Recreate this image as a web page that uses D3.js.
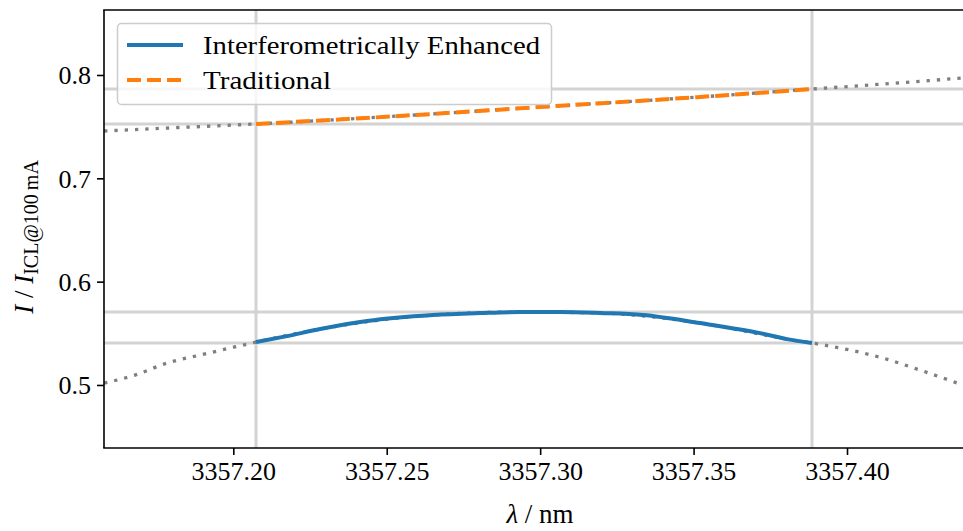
<!DOCTYPE html>
<html>
<head>
<meta charset="utf-8">
<script src="https://cdn.jsdelivr.net/npm/d3@7/dist/d3.min.js"></script>
<style>
  body { margin: 0; background: #fff; }
  svg { display: block; }
  svg text { font-family: "Liberation Serif", "DejaVu Serif", "Noto Serif", serif !important; fill: #000; }
</style>
</head>
<body>
<svg id="chart" width="963" height="531"></svg>
<script>
// ---- Data ----
const xTicks = [3357.20, 3357.25, 3357.30, 3357.35, 3357.40];
const yTicks = [0.5, 0.6, 0.7, 0.8];

// Interferometrically enhanced (measured segment)
const enhancedX = [3357.2074, 3357.2175, 3357.2283, 3357.2436, 3357.2651, 3357.2805, 3357.2934,
                   3357.3065, 3357.3195, 3357.3335, 3357.3521, 3357.3716, 3357.3804, 3357.3886];
const enhancedY = [0.5415, 0.5473, 0.5541, 0.5619, 0.5677, 0.5696, 0.5706,
                   0.5706, 0.5696, 0.5677, 0.5599, 0.5502, 0.5444, 0.5406];

// Dotted extension of the enhanced curve
const enhFitX = [3357.1579, 3357.1680, 3357.1784, 3357.1891, 3357.1989, 3357.2074,
                 3357.2283, 3357.2651, 3357.2934, 3357.3195, 3357.3521, 3357.3804, 3357.3886,
                 3357.4010, 3357.4117, 3357.4238, 3357.4378];
const enhFitY = [0.5018, 0.5096, 0.5212, 0.5289, 0.5357, 0.5415,
                 0.5541, 0.5677, 0.5706, 0.5696, 0.5599, 0.5444, 0.5406,
                 0.5338, 0.5260, 0.5144, 0.4999];

// Traditional (measured segment)
const tradX = [3357.2074, 3357.2540, 3357.3000, 3357.3520, 3357.3886];
const tradY = [0.7526, 0.7603, 0.7690, 0.7787, 0.7864];

// Dotted extension of the traditional curve
const tradFitX = [3357.1579, 3357.1827, 3357.2074, 3357.2540, 3357.3000, 3357.3520, 3357.3886, 3357.4143, 3357.4378];
const tradFitY = [0.7458, 0.7492, 0.7526, 0.7603, 0.7690, 0.7787, 0.7864, 0.7918, 0.7971];

// Reference markers (grid lines at segment ends)
const markerX = [3357.2074, 3357.3886];
const markerY = [0.7864, 0.7526, 0.5706, 0.5406];

const seriesNames = ["Interferometrically Enhanced", "Traditional"];

// ---- Layout ----
const FONT = "'Liberation Serif', 'DejaVu Serif', 'Noto Serif', serif";
const L = 104, R = 963, T = 10, B = 448;
const svg = d3.select("#chart");
const x = d3.scaleLinear().domain([3357.15786, 3357.43780]).range([L, R]);
const y = d3.scaleLinear().domain([0.439, 0.8629]).range([B, T]);

svg.append("defs").append("clipPath").attr("id", "clip")
  .append("rect").attr("x", L).attr("y", T).attr("width", R - L + 5).attr("height", B - T);

const plot = svg.append("g").attr("clip-path", "url(#clip)");

// grid markers
plot.selectAll("line.vx").data(markerX).enter().append("line")
  .attr("x1", d => x(d)).attr("x2", d => x(d)).attr("y1", T).attr("y2", B)
  .attr("stroke", "#d3d3d3").attr("stroke-width", 3);
plot.selectAll("line.hy").data(markerY).enter().append("line")
  .attr("x1", L).attr("x2", R + 5).attr("y1", d => y(d)).attr("y2", d => y(d))
  .attr("stroke", "#d3d3d3").attr("stroke-width", 3);

const line = d3.line().x(d => x(d[0])).y(d => y(d[1])).curve(d3.curveMonotoneX);
const zip = (a, b) => a.map((v, i) => [v, b[i]]);

plot.append("path").attr("d", line(zip(enhFitX, enhFitY)))
  .attr("fill", "none").attr("stroke", "#7f7f7f").attr("stroke-width", 3.3)
  .attr("stroke-dasharray", "3.3,7");
plot.append("path").attr("d", line(zip(tradFitX, tradFitY)))
  .attr("fill", "none").attr("stroke", "#7f7f7f").attr("stroke-width", 3.3)
  .attr("stroke-dasharray", "3.3,7");

plot.append("path").attr("d", line(zip(enhancedX, enhancedY)))
  .attr("fill", "none").attr("stroke", "#1f77b4").attr("stroke-width", 4);
plot.append("path").attr("d", line(zip(tradX, tradY)))
  .attr("fill", "none").attr("stroke", "#ff7f0e").attr("stroke-width", 4)
  .attr("stroke-dasharray", "14,6");

// axes
const xAxis = d3.axisBottom(x).tickValues(xTicks).tickFormat(d3.format(".2f")).tickSize(7).tickPadding(6);
const yAxis = d3.axisLeft(y).tickValues(yTicks).tickFormat(d3.format(".1f")).tickSize(7).tickPadding(6);

const gx = svg.append("g").attr("transform", `translate(0,${B})`).call(xAxis);
const gy = svg.append("g").attr("transform", `translate(${L},0)`).call(yAxis);
[gx, gy].forEach(g => {
  g.attr("font-family", FONT);
  g.select(".domain").remove();
  g.selectAll(".tick line").attr("stroke", "#000").attr("stroke-width", 1.6);
  g.selectAll(".tick text").attr("font-family", FONT).attr("font-size", 26).attr("fill", "#000");
});
gx.selectAll(".tick text").attr("dy", "0.74em");
gy.selectAll(".tick text").attr("dy", "0.34em");

// spines
svg.append("line").attr("x1", L).attr("x2", L).attr("y1", T).attr("y2", B).attr("stroke", "#000").attr("stroke-width", 1.6);
svg.append("line").attr("x1", L - 0.8).attr("x2", R + 5).attr("y1", B).attr("y2", B).attr("stroke", "#000").attr("stroke-width", 1.6);
svg.append("line").attr("x1", L - 0.8).attr("x2", R + 5).attr("y1", T).attr("y2", T).attr("stroke", "#000").attr("stroke-width", 1.6);

// axis labels
const xl = svg.append("text").attr("x", 540).attr("y", 523).attr("text-anchor", "middle")
  .attr("font-family", FONT).attr("font-size", 27);
xl.append("tspan").attr("font-style", "italic").text("λ");
xl.append("tspan").text(" / nm");

const yl = svg.append("text").attr("transform", `translate(33,237) rotate(-90)`)
  .attr("text-anchor", "middle").attr("font-family", FONT).attr("font-size", 27);
yl.append("tspan").attr("font-style", "italic").text("I");
yl.append("tspan").text(" / ");
yl.append("tspan").attr("font-style", "italic").text("I");
yl.append("tspan").attr("font-size", 20).attr("dy", 5).text("ICL@100\u2009mA");

// legend
const lg = svg.append("g");
lg.append("rect").attr("x", 117.5).attr("y", 23.5).attr("width", 434).attr("height", 81).attr("rx", 4)
  .attr("fill", "#fff").attr("fill-opacity", 0.8).attr("stroke", "#cccccc").attr("stroke-width", 1.5);
const legendItems = [
  { name: seriesNames[0], color: "#1f77b4", dash: null, yy: 45, len: 337 },
  { name: seriesNames[1], color: "#ff7f0e", dash: "14,6", yy: 80, len: 128 }
];
legendItems.forEach(it => {
  const ln = lg.append("line").attr("x1", 127).attr("x2", 183).attr("y1", it.yy).attr("y2", it.yy)
    .attr("stroke", it.color).attr("stroke-width", 4);
  if (it.dash) ln.attr("stroke-dasharray", it.dash);
  lg.append("text").attr("x", 203).attr("y", it.yy + 8.5).attr("font-family", FONT).attr("font-size", 25)
    .attr("textLength", it.len).attr("lengthAdjust", "spacingAndGlyphs").text(it.name);
});
</script>
</body>
</html>
